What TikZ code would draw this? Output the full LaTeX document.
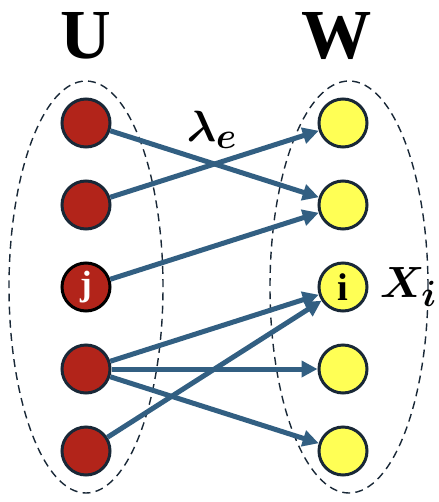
\documentclass[tikz,border=0pt]{standalone}
\usepackage{fontspec}
\setmainfont{Liberation Serif}
\usepackage{tikz}
\usetikzlibrary{arrows.meta, positioning, calc}
\definecolor{ucolor}{RGB}{178, 36, 26}
\definecolor{wcolor}{RGB}{255, 255, 85}
\definecolor{edgecolor}{RGB}{50, 95, 130}
\definecolor{rimcolor}{RGB}{25, 40, 55}

\begin{document}
\begin{tikzpicture}[
        node distance=0.62cm,
        unode/.style={circle, draw=rimcolor, line width=0.06cm, fill=ucolor, minimum size=0.96cm, inner sep=0pt, font=\fontsize{20}{22}\selectfont\bfseries, text=white},
        wnode/.style={circle, draw=rimcolor, line width=0.06cm, fill=wcolor, minimum size=0.96cm, inner sep=0pt, font=\fontsize{22}{24}\selectfont\bfseries},
        setlabel/.style={inner sep=0pt, font=\fontsize{40}{44}\selectfont\bfseries},
        mathlabel/.style={inner sep=0pt, font=\fontsize{30}{34}\selectfont\boldmath},
        arrow/.style={-{Triangle[length=0.32cm, width=0.32cm]}, line width=0.1cm, edgecolor},
        group/.style={rimcolor, line width=0.8pt, dash pattern=on 4.5pt off 3pt}
    ]
        \useasboundingbox (0,0) rectangle (8.78,-10.04);

        % Left side U
        \node[unode] (u1) at (1.72,-2.46) {};
        \node[unode, below=of u1] (u2) {};
        \node[unode, below=of u2, draw=black] (uj) {j};
        \node[unode, below=of uj] (u4) {};
        \node[unode, below=of u4] (u5) {};

        % Right side W
        \node[wnode, right=4.12cm of u1] (w1) {};
        \node[wnode, below=of w1] (w2) {};
        \node[wnode, below=of w2] (wi) {i};
        \node[wnode, below=of wi] (w4) {};
        \node[wnode, below=of w4] (w5) {};

        % Set names
        \node[setlabel, above=0.75cm of u1] (ulabel) {U};
        \node[setlabel, above=0.75cm of w1, xshift=-0.12cm] (wlabel) {W};

        % Groups
        \draw[group] (uj) ellipse [x radius=1.54cm, y radius=4.12cm];
        \draw[group] ($(wi)+(0.12,0)$) ellipse [x radius=1.58cm, y radius=4.12cm];

        % Edges
        \draw[arrow] (u1) -- (w2);
        \draw[arrow] (u2) -- (w1);
        \draw[arrow] (uj) -- (w2);
        \draw[arrow] (u4) -- (wi);
        \draw[arrow] (u4) -- (w4);
        \draw[arrow] (u4) -- (w5);
        \draw[arrow] (u5) -- (wi);

        % Labels
        \node[mathlabel, yshift=-0.14cm, xshift=-0.05cm] (lambda) at ($(u1)!0.5!(w1)$) {$\lambda_e$};
        \node[mathlabel, right=0.22cm of wi] (xi) {$X_i$};

    \end{tikzpicture}
\end{document}
